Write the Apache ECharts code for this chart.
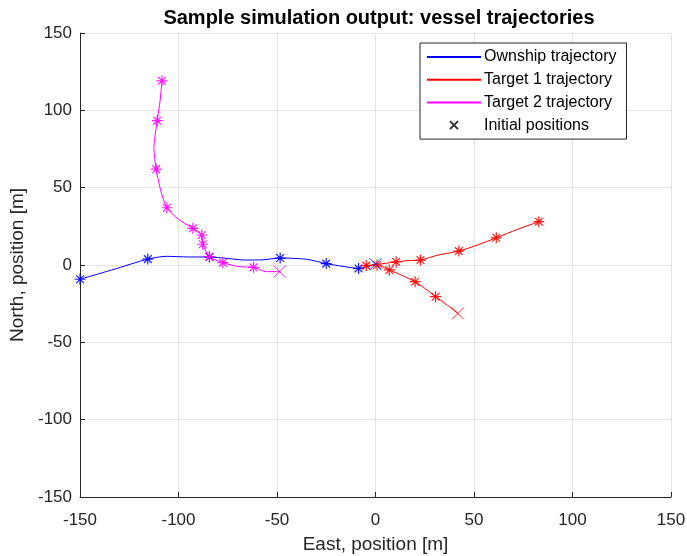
<!DOCTYPE html>
<html>
<head>
<meta charset="utf-8">
<script src="https://cdn.jsdelivr.net/npm/echarts@6/dist/echarts.min.js"></script>
<style>html,body{margin:0;padding:0;background:#fff;}#c{width:687px;height:556px;}</style>
</head>
<body>
<div id="c"></div>
<script>
// Tick values
var xTicks = [-150, -100, -50, 0, 50, 100, 150];
var yTicks = [-150, -100, -50, 0, 50, 100, 150];

// Ownship trajectory (East, North)
var ownEast  = [0, -8.6, -17, -25, -35, -48.4, -57, -65.6, -75, -84.3, -95, -106.2, -115.6, -133.3, -150];
var ownNorth = [0.5, -2.2, -0.8, 0.9, 3.7, 4.5, 3.4, 3.2, 4.2, 5.2, 5.2, 5.6, 3.8, -3.0, -9.2];
var ownMarkE = [-8.6, -25, -48.4, -84.3, -115.6, -150];
var ownMarkN = [-2.2, 0.9, 4.5, 5.2, 3.8, -9.2];

// Target 1 trajectory
var t1East  = [41.8, 36, 30.5, 25, 20.1, 13, 7, 0.8, -4.7, 0.8, 10.5, 16, 22.8, 32, 42.3, 52, 61.3, 72, 82.9];
var t1North = [-31.3, -25.5, -20.5, -15, -10.8, -6.5, -3.2, -0.2, -0.4, 0.4, 2.0, 2.8, 3.2, 6.5, 9.0, 13.0, 17.6, 23.0, 28.0];
var t1MarkE = [30.5, 20.1, 7, 0.8, -4.7, 10.5, 22.8, 42.3, 61.3, 82.9];
var t1MarkN = [-20.5, -10.8, -3.2, 0, -0.4, 2.0, 3.2, 9.0, 17.6, 28.0];

// Target 2 trajectory
var t2East  = [-48.7, -55.5, -61.9, -69, -77.5, -84.3, -87.7, -88.2, -92.7, -100, -105.9, -109, -111.3, -112.5, -110.8, -109.3, -108.4];
var t2North = [-4.3, -4.3, -1.5, -1.1, 1.5, 5.4, 13.4, 19.4, 23.7, 29.5, 37.0, 48, 62.0, 75.4, 93.3, 106.7, 119.1];
var t2MarkE = [-61.9, -77.5, -84.3, -87.7, -88.2, -92.7, -105.9, -111.3, -110.8, -108.4];
var t2MarkN = [-1.5, 1.5, 5.4, 13.4, 19.4, 23.7, 37.0, 62.0, 93.3, 119.1];

// Initial positions
var initE = [0, 41.8, -48.7];
var initN = [0.5, -31.3, -4.3];
var initColors = ['#0000ff', '#ff0000', '#ff00ff'];

var names = ['Ownship trajectory', 'Target 1 trajectory', 'Target 2 trajectory', 'Initial positions'];

function zip(a, b) { return a.map(function (v, i) { return [v, b[i]]; }); }

var STAR = 'path://M5,0L5,10M0,5L10,5M1.5,1.5L8.5,8.5M8.5,1.5L1.5,8.5';
var CROSS = 'path://M0,0L10,10M10,0L0,10';

function lineSeries(name, color, e, n) {
  return {
    name: name, type: 'line', data: zip(e, n), smooth: 0.25, showSymbol: false, symbol: 'none',
    lineStyle: { color: color, width: 1 }, itemStyle: { color: color }, z: 2, silent: true
  };
}
function starSeries(name, color, e, n) {
  return {
    name: name, type: 'scatter', data: zip(e, n), symbol: STAR, symbolSize: 11,
    itemStyle: { color: 'none', borderColor: color, borderWidth: 1.2, opacity: 0.9 }, z: 3, silent: true
  };
}

var chart = echarts.init(document.getElementById('c'), null, { renderer: 'canvas' });
var txt = '#262626';
var axisCommon = {
  min: -150, max: 150, interval: 50,
  axisLine: { show: true, onZero: false, lineStyle: { color: txt, width: 1 } },
  axisTick: { show: true, inside: true, length: 5, lineStyle: { color: txt } },
  axisLabel: { color: txt, fontSize: 17, fontFamily: 'Liberation Sans' },
  splitLine: { show: true, lineStyle: { color: '#e3e3e3', width: 1 } },
  nameLocation: 'middle',
  nameTextStyle: { color: txt, fontSize: 19, fontFamily: 'Liberation Sans' }
};

chart.setOption({
  animation: false,
  backgroundColor: '#ffffff',
  title: {
    text: 'Sample simulation output: vessel trajectories',
    left: 374, top: 3, textAlign: 'center',
    textStyle: { fontSize: 20, fontWeight: 'bold', color: '#000', fontFamily: 'Liberation Sans' }
  },
  grid: { left: 80, right: 16, top: 33, bottom: 59, containLabel: false, outerBoundsMode: 'none' },
  xAxis: Object.assign({}, axisCommon, {
    type: 'value', name: 'East, position [m]', nameGap: 38,
    axisLabel: Object.assign({}, axisCommon.axisLabel, { margin: 15 })
  }),
  yAxis: Object.assign({}, axisCommon, {
    type: 'value', name: 'North, position [m]', nameGap: 50,
    axisLabel: Object.assign({}, axisCommon.axisLabel, { margin: 8 })
  }),
  legend: {
    data: [
      { name: names[0], itemStyle: { opacity: 0 } },
      { name: names[1], itemStyle: { opacity: 0 } },
      { name: names[2], itemStyle: { opacity: 0 } },
      { name: names[3] }
    ],
    orient: 'vertical', left: 420, top: 43,
    itemWidth: 54, itemHeight: 8, itemGap: 6.7,
    padding: [6, 10, 6, 6],
    backgroundColor: '#fff', borderColor: '#262626', borderWidth: 1, borderRadius: 0,
    textStyle: { color: '#000', fontSize: 16, fontFamily: 'Liberation Sans', padding: [0, 0, 0, -2] },
    selectedMode: false
  },
  series: [
    lineSeries(names[0], '#0000ff', ownEast, ownNorth),
    lineSeries(names[1], '#ff0000', t1East, t1North),
    lineSeries(names[2], '#ff00ff', t2East, t2North),
    starSeries('own marks', '#0000ff', ownMarkE, ownMarkN),
    starSeries('t1 marks', '#ff0000', t1MarkE, t1MarkN),
    starSeries('t2 marks', '#ff00ff', t2MarkE, t2MarkN),
    {
      name: names[3], type: 'scatter', symbol: CROSS, symbolSize: 12, z: 4, silent: true,
      itemStyle: { color: 'none', borderColor: '#000', borderWidth: 1 },
      data: initE.map(function (v, i) {
        return { value: [v, initN[i]], itemStyle: { borderColor: initColors[i] } };
      })
    }
  ]
});
</script>
</body>
</html>
